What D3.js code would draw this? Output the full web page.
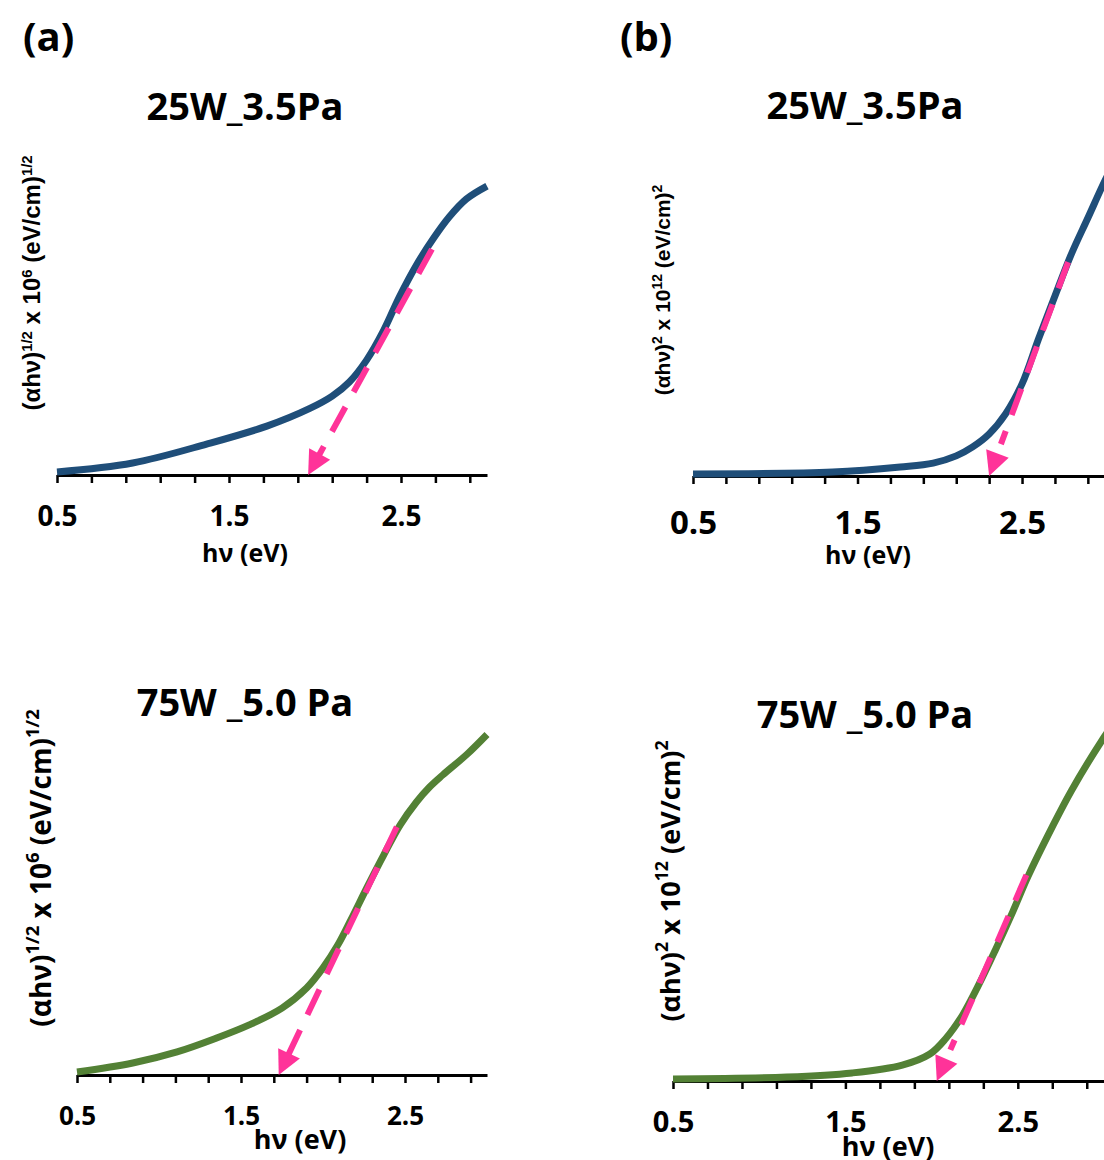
<!DOCTYPE html>
<meta charset="utf-8">
<script src="https://d3js.org/d3.v7.min.js"></script>
<style>
  body { margin: 0; background: #fff; }
  text { font-weight: bold; fill: #000; }
</style>
<div id="chart"></div>
<script>

// photon energy (eV) and relative Tauc values
// (a) top : (αhν)^1/2, 25W_3.5Pa
var hvA1 = [0.5, 0.94, 1.37, 1.72, 1.97, 2.10, 2.20, 2.30, 2.40, 2.49, 2.59, 2.69, 2.78, 2.88, 3.0];
var tA1  = [0.01, 0.04, 0.103, 0.163, 0.222, 0.263, 0.31, 0.383, 0.483, 0.593, 0.70, 0.79, 0.86, 0.92, 0.963];
// (b) top : (αhν)^2, 25W_3.5Pa
var hvB1 = [0.5, 1.35, 1.76, 1.96, 2.1, 2.2, 2.3, 2.4, 2.5, 2.6, 2.7, 2.8, 2.9, 3.0, 3.05];
var tB1  = [0.007, 0.013, 0.03, 0.043, 0.067, 0.097, 0.14, 0.207, 0.307, 0.457, 0.60, 0.74, 0.86, 0.98, 1.033];
// (a) bottom : (αhν)^1/2, 75W _5.0 Pa
var hvA2 = [0.5, 0.84, 1.11, 1.35, 1.55, 1.75, 1.90, 2.0, 2.09, 2.17, 2.27, 2.37, 2.47, 2.57, 2.65, 2.73, 2.88, 3.0];
var tA2  = [0.01, 0.04, 0.077, 0.123, 0.167, 0.223, 0.29, 0.357, 0.433, 0.517, 0.627, 0.733, 0.833, 0.91, 0.96, 1.0, 1.07, 1.135];
// (b) bottom : (αhν)^2, 75W _5.0 Pa
var hvB2 = [0.5, 1.16, 1.54, 1.83, 1.99, 2.08, 2.18, 2.27, 2.37, 2.47, 2.56, 2.70, 2.81, 2.99, 3.05];
var tB2  = [0.007, 0.013, 0.027, 0.053, 0.09, 0.14, 0.22, 0.317, 0.437, 0.563, 0.683, 0.847, 0.967, 1.137, 1.187];

// linear fits (start point, intercept on the energy axis)
var fitA1 = [[2.68, 0.753], [1.96, 0]];
var fitB1 = [[2.78, 0.713], [2.30, 0]];
var fitA2 = [[2.45, 0.827], [1.73, 0]];
var fitB2 = [[2.55, 0.687], [2.03, 0]];

var minorTicks = [0.5, 0.7, 0.9, 1.1, 1.3, 1.5, 1.7, 1.9, 2.1, 2.3, 2.5, 2.7, 2.9];
var majorTicks = [0.5, 1.5, 2.5];

var titles = ["25W_3.5Pa", "25W_3.5Pa", "75W _5.0 Pa", "75W _5.0 Pa"];

var blue = "#1f4e79", green = "#538135", pink = "#ff3399";

var svg = d3.select("#chart").append("svg")
    .attr("width", 1104)
    .attr("height", 1160);

svg.append("text").attr("x", 23).attr("y", 51)
   .style("font-family", "Open Sans").style("font-size", "40px").text("(a)");
svg.append("text").attr("x", 620).attr("y", 51)
   .style("font-family", "Open Sans").style("font-size", "40px").text("(b)");

function drawPanel(p) {
  var x = d3.scaleLinear().domain([0.5, 3.0]).range([p.left, p.right]);
  var y = d3.scaleLinear().domain([0, 1]).range([p.base, p.base - 300]);
  var g = svg.append("g");

  // minor ticks + axis line
  var ax = g.append("g")
    .attr("transform", "translate(0," + p.base + ")")
    .call(d3.axisBottom(x).tickValues(minorTicks).tickSize(8).tickSizeOuter(0).tickFormat(""));
  ax.select(".domain").attr("stroke", "#000").attr("stroke-width", 3);
  ax.selectAll(".tick line").attr("stroke", "#000").attr("stroke-width", 2.5);

  // tick labels
  var lab = g.append("g")
    .attr("transform", "translate(0," + p.base + ")")
    .call(d3.axisBottom(x).tickValues(majorTicks).tickSize(0).tickPadding(0).tickFormat(d3.format(".1f")));
  lab.select(".domain").remove();
  lab.selectAll(".tick text")
    .attr("dy", null)
    .attr("y", p.tickY)
    .style("font-family", "Open Sans")
    .style("font-size", p.tickSize + "px")
    .style("font-weight", "bold")
    .attr("fill", "#000");

  // curve
  var pts = p.hv.map(function (d, i) { return [d, p.t[i]]; });
  g.append("path")
    .datum(pts)
    .attr("fill", "none")
    .attr("stroke", p.color)
    .attr("stroke-width", 7)
    .attr("d", d3.line()
      .x(function (d) { return x(d[0]); })
      .y(function (d) { return y(d[1]); })
      .curve(d3.curveCatmullRom.alpha(0.5)));

  // dashed fit line with arrow head
  var s = [x(p.fit[0][0]), y(p.fit[0][1])];
  var e = [x(p.fit[1][0]), y(p.fit[1][1])];
  var len = Math.hypot(e[0] - s[0], e[1] - s[1]);
  var ux = (e[0] - s[0]) / len, uy = (e[1] - s[1]) / len;
  var hl = 24, hw = 12;
  var bx = e[0] - ux * hl, by = e[1] - uy * hl;
  g.append("line")
    .attr("x1", s[0]).attr("y1", s[1])
    .attr("x2", bx - ux * p.gap).attr("y2", by - uy * p.gap)
    .attr("stroke", pink)
    .attr("stroke-width", 6)
    .attr("stroke-dasharray", "28,17");
  g.append("polygon")
    .attr("points", [[e[0], e[1]], [bx - uy * hw, by + ux * hw], [bx + uy * hw, by - ux * hw]].join(" "))
    .attr("fill", pink);

  // title
  g.append("text")
    .attr("x", p.titleX).attr("y", p.titleY)
    .attr("text-anchor", "middle")
    .style("font-family", "Open Sans")
    .style("font-size", "38px")
    .text(p.title);

  // x label
  g.append("text")
    .attr("x", p.xlabX).attr("y", p.xlabY)
    .attr("text-anchor", "middle")
    .style("font-family", "Open Sans")
    .style("font-size", p.xlabSize + "px")
    .text("hν (eV)");

  // y label
  var yl = g.append("text")
    .attr("transform", "translate(" + p.ylabX + "," + p.ylabY + ") rotate(-90)")
    .attr("text-anchor", "middle")
    .style("font-family", p.ylabFont)
    .style("font-size", p.ylabSize + "px");
  p.ylab.forEach(function (part) {
    var ts = yl.append("tspan").text(part[0]);
    if (part[1]) ts.attr("baseline-shift", "super").style("font-size", p.supSize);
  });
}

var labHalf = [["(αhν)"], ["1/2", true], [" x 10"], ["6", true], [" (eV/cm)"], ["1/2", true]];
var labSq = [["(αhν)"], ["2", true], [" x 10"], ["12", true], [" (eV/cm)"], ["2", true]];

drawPanel({ hv: hvA1, t: tA1, fit: fitA1, color: blue, title: titles[0], gap: -2,
  left: 57, right: 487, base: 475, tickY: 51, tickSize: 28,
  titleX: 245, titleY: 120, xlabX: 245, xlabY: 562, xlabSize: 25,
  ylabX: 40, ylabY: 283, ylabSize: 24, supSize: "62%", ylabFont: "Liberation Sans", ylab: labHalf });

drawPanel({ hv: hvB1, t: tB1, fit: fitB1, color: blue, title: titles[1], gap: 10,
  left: 693, right: 1104.3, base: 476, tickY: 58, tickSize: 33,
  titleX: 865, titleY: 119, xlabX: 868, xlabY: 564, xlabSize: 25,
  ylabX: 670, ylabY: 290, ylabSize: 21, supSize: "66%", ylabFont: "Liberation Sans", ylab: labSq });

drawPanel({ hv: hvA2, t: tA2, fit: fitA2, color: green, title: titles[2], gap: -2,
  left: 77, right: 487, base: 1075, tickY: 50, tickSize: 26,
  titleX: 245, titleY: 716, xlabX: 300, xlabY: 1149, xlabSize: 27,
  ylabX: 51, ylabY: 868, ylabSize: 28, supSize: "66%", ylabFont: "Open Sans", ylab: labHalf });

drawPanel({ hv: hvB2, t: tB2, fit: fitB2, color: green, title: titles[3], gap: 10,
  left: 673, right: 1104, base: 1081, tickY: 51, tickSize: 29,
  titleX: 865, titleY: 728, xlabX: 888, xlabY: 1156, xlabSize: 27,
  ylabX: 680, ylabY: 881, ylabSize: 27, supSize: "66%", ylabFont: "Open Sans", ylab: labSq });

</script>
